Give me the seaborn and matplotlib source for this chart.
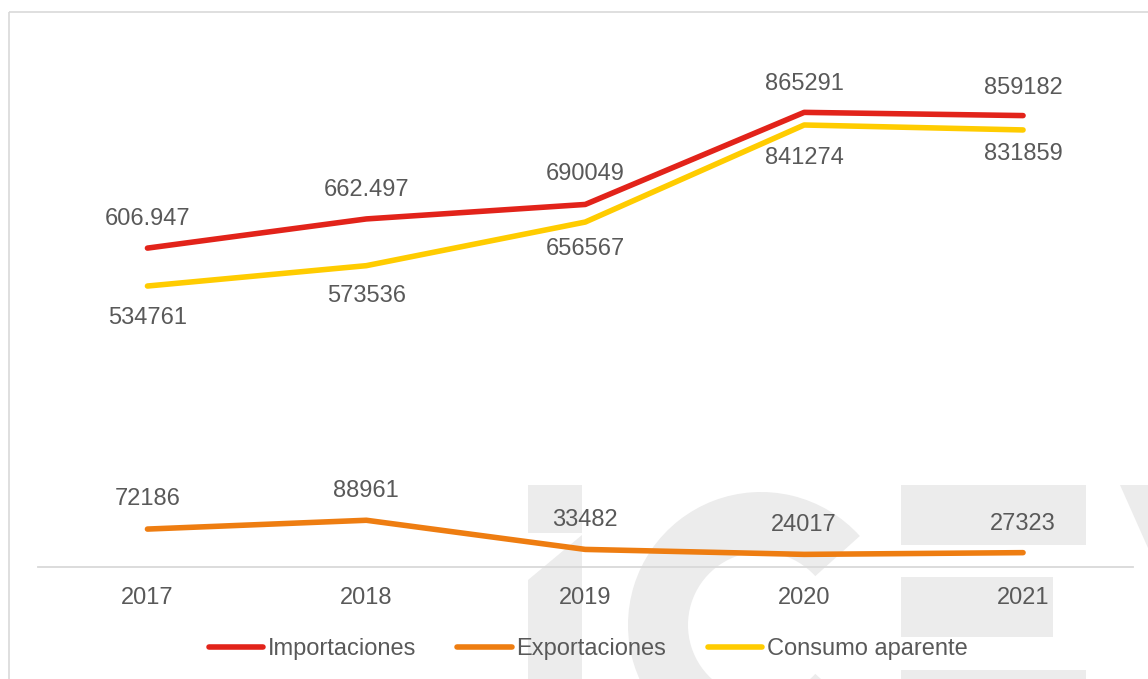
import matplotlib
matplotlib.use("Agg")
import matplotlib.pyplot as plt
import pandas as pd
import seaborn as sns
from matplotlib.transforms import Affine2D
from matplotlib.patches import Rectangle, Polygon, Wedge

# ---- data -------------------------------------------------------------
years = ["2017", "2018", "2019", "2020", "2021"]
importaciones = [606947, 662497, 690049, 865291, 859182]
exportaciones = [72186, 88961, 33482, 24017, 27323]
consumo_aparente = [534761, 573536, 656567, 841274, 831859]
series_names = ["Importaciones", "Exportaciones", "Consumo aparente"]
# the first two import figures are printed with a thousands separator
import_grouped = [True, True, False, False, False]


def fmt(v, grouped=False):
    return f"{v:,}".replace(",", ".") if grouped else str(v)


import_labels = [fmt(v, g) for v, g in zip(importaciones, import_grouped)]
export_labels = [fmt(v) for v in exportaciones]
consumo_labels = [fmt(v) for v in consumo_aparente]

# ---- style ------------------------------------------------------------
sns.set_style("white")
plt.rcParams["font.family"] = ["Liberation Sans", "DejaVu Sans"]
TEXT = "#595959"
colors = ["#E2231A", "#EE7D11", "#FFCC00"]
FS = 17

W, H = 1148, 679
fig = plt.figure(figsize=(W / 100, H / 100), dpi=100)
fig.patch.set_facecolor("white")
px = Affine2D().scale(1 / W, -1 / H).translate(0, 1) + fig.transFigure

# chart frame
fig.add_artist(Rectangle((9, 12), 1170, 700, transform=px, fill=False,
                         edgecolor="#d9d9d9", linewidth=1.2, zorder=0))

# faint "icex" mark behind the plot
wm = "#ececec"
fig.add_artist(Rectangle((528, 485), 54, 48, transform=px, color=wm, lw=0, zorder=0))
fig.add_artist(Polygon([(528, 580), (582, 535), (582, 700), (528, 700)],
                       closed=True, transform=px, color=wm, lw=0, zorder=0))
fig.add_artist(Wedge((761, 625), 133, 42, 318, width=60, transform=px,
                     color=wm, lw=0, zorder=0))
fig.add_artist(Rectangle((901, 485), 185, 60, transform=px, color=wm, lw=0, zorder=0))
fig.add_artist(Rectangle((901, 577), 152, 60, transform=px, color=wm, lw=0, zorder=0))
fig.add_artist(Rectangle((901, 670), 185, 60, transform=px, color=wm, lw=0, zorder=0))
fig.add_artist(Polygon([(1120, 485), (1160, 485), (1160, 575)],
                       closed=True, transform=px, color=wm, lw=0, zorder=0))

# ---- axes -------------------------------------------------------------
left, right, base, top = 38, 1132.5, 567, 41.6
ax = fig.add_axes([left / W, (H - base) / H, (right - left) / W, (base - top) / H])
ax.patch.set_alpha(0)
ax.set_zorder(2)

df = pd.DataFrame({
    "Año": years * 3,
    "Valor": importaciones + exportaciones + consumo_aparente,
    "Serie": [s for s in series_names for _ in years],
})
sns.lineplot(data=df, x="Año", y="Valor", hue="Serie", hue_order=series_names,
             palette=colors, linewidth=4, sort=False, ax=ax,
             solid_capstyle="round")

ax.set_xlim(-0.5, len(years) - 0.5)
ax.set_ylim(0, 1_000_000)
ax.set_xlabel("")
ax.set_ylabel("")
ax.set_yticks([])
for side in ("left", "right", "top"):
    ax.spines[side].set_visible(False)
ax.spines["bottom"].set_color("#d9d9d9")
ax.spines["bottom"].set_linewidth(1.3)
ax.tick_params(axis="x", length=0, pad=14.5, labelsize=FS, labelcolor=TEXT)

# ---- data labels ------------------------------------------------------
PT = 72 / 100  # points per pixel
label_sets = [
    (importaciones, import_labels, [29, 29, 30, 28, 28]),
    (exportaciones, export_labels, [30, 29, 29, 29, 29]),
    (consumo_aparente, consumo_labels, [-32, -30, -27, -33, -24]),
]
for values, labels, offs in label_sets:
    for i, (v, t, d) in enumerate(zip(values, labels, offs)):
        ax.annotate(t, (i, v), xytext=(0, d * PT), textcoords="offset points",
                    ha="center", va="center", fontsize=FS, color=TEXT)

# ---- legend -----------------------------------------------------------
handles, labels = ax.get_legend_handles_labels()
ax.get_legend().remove()
for h in handles:
    h.set_solid_capstyle("round")
leg = fig.legend(handles, labels, loc="center", bbox_to_anchor=(588 / W, 1 - 649 / H),
                 ncol=3, frameon=False, fontsize=FS, handlelength=2.3,
                 handletextpad=0.2, columnspacing=1.75, borderaxespad=0)
for txt in leg.get_texts():
    txt.set_color(TEXT)

fig.savefig("out.png", dpi=100, facecolor="white")
